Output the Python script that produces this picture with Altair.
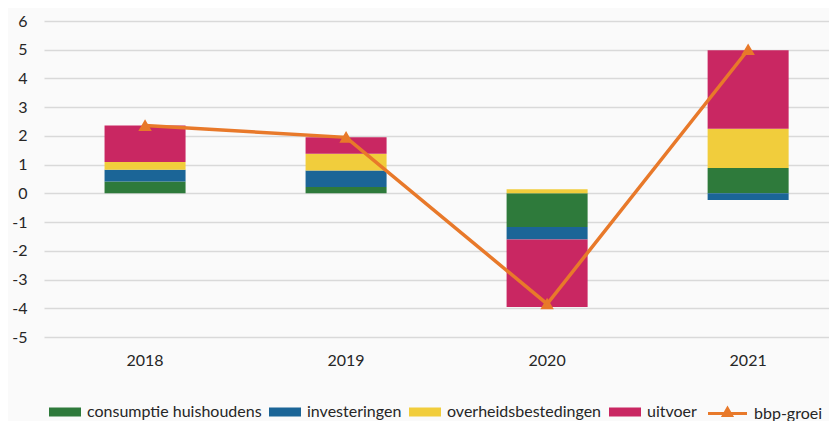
import altair as alt
import pandas as pd

years = ["2018", "2019", "2020", "2021"]
consumptie = [0.41, 0.22, -1.17, 0.88]
investeringen = [0.41, 0.58, -0.44, -0.23]
overheid = [0.27, 0.58, 0.14, 1.37]
uitvoer = [1.27, 0.57, -2.35, 2.73]
bbp_groei = [2.36, 1.95, -3.85, 5.0]
y_ticks = [-5, -4, -3, -2, -1, 0, 1, 2, 3, 4, 5, 6]

components = ["consumptie huishoudens", "investeringen", "overheidsbestedingen", "uitvoer"]
colors = ["#2E7A3B", "#1B6597", "#F1CD3C", "#C92762"]
line_name = "bbp-groei"
ORANGE = "#E8792A"
FONT = "Lato"

rows = []
for k, (name, vals) in enumerate(zip(components, [consumptie, investeringen, overheid, uitvoer])):
    for yr, v in zip(years, vals):
        rows.append({"jaar": yr, "component": name, "waarde": v, "volgorde": k})
bars_df = pd.DataFrame(rows)
line_df = pd.DataFrame({"jaar": years, "groei": bbp_groei, "reeks": [line_name] * len(years)})

x_axis = alt.Axis(labelAngle=0, labelFontSize=16, labelFont=FONT, labelPadding=15,
                  ticks=False, tickSize=0, domain=False, grid=False, labelColor="#262626")
x_scale = alt.Scale(paddingInner=0.597, paddingOuter=0.251, align=0.6)

y_scale = alt.Scale(domain=[-5, 6], nice=False, zero=False)
y_axis = alt.Axis(values=y_ticks, tickCount=12, labelOverlap=False, labelFontSize=16, labelFont=FONT,
                  labelExpr="toString(datum.value)",
                  labelPadding=17, ticks=False, tickSize=0, domain=False,
                  gridColor="#D9D9D9", gridWidth=1.5, labelColor="#262626")

bar_legend = alt.Legend(
    title=None, orient="none", legendX=1, legendY=371, direction="horizontal",
    symbolSize=1600, symbolType="M-0.8,-0.225H0.8V0.225H-0.8Z", symbolStrokeWidth=0,
    symbolOpacity=1, labelOffset=2, columnPadding=3, labelLimit=400,
    labelFontSize=16, labelFont=FONT, labelColor="#262626",
)

line_legend = alt.Legend(
    title=None, orient="none", legendX=662, legendY=371, direction="horizontal",
    symbolSize=1600, symbolType="M-0.975,0H0.975M-0.2,0.1L0,-0.25L0.2,0.1Z",
    symbolStrokeWidth=3, symbolFillColor=ORANGE, symbolOpacity=1, labelOffset=5, labelLimit=400,
    labelFontSize=16, labelFont=FONT, labelColor="#262626",
)

bars = alt.Chart(bars_df).mark_bar(opacity=1).encode(
    x=alt.X("jaar:O", title=None, sort=years, scale=x_scale, axis=x_axis),
    y=alt.Y("waarde:Q", stack="zero", title=None, scale=y_scale, axis=y_axis),
    color=alt.Color("component:N", scale=alt.Scale(domain=components, range=colors), legend=bar_legend),
    order=alt.Order("volgorde:Q"),
)

line = alt.Chart(line_df).mark_line(
    strokeWidth=3.5,
    point=alt.OverlayMarkDef(shape="triangle-up", size=100, filled=True, fill=ORANGE),
).encode(
    x=alt.X("jaar:O", title=None, sort=years, scale=x_scale, axis=x_axis),
    y=alt.Y("groei:Q", title=None, scale=y_scale, axis=y_axis),
    stroke=alt.Stroke("reeks:N", scale=alt.Scale(domain=[line_name], range=[ORANGE]),
                      legend=line_legend),
)

chart = alt.layer(bars, line).resolve_legend(color="independent", stroke="independent").properties(
    width=785, height=316, autosize="none",
    padding={"left": 36, "top": 13, "right": 0, "bottom": 84},
    background="#FAFAFA",
).configure_view(stroke=None)

chart.save("out.html", embed_options={"renderer": "svg", "actions": False})
